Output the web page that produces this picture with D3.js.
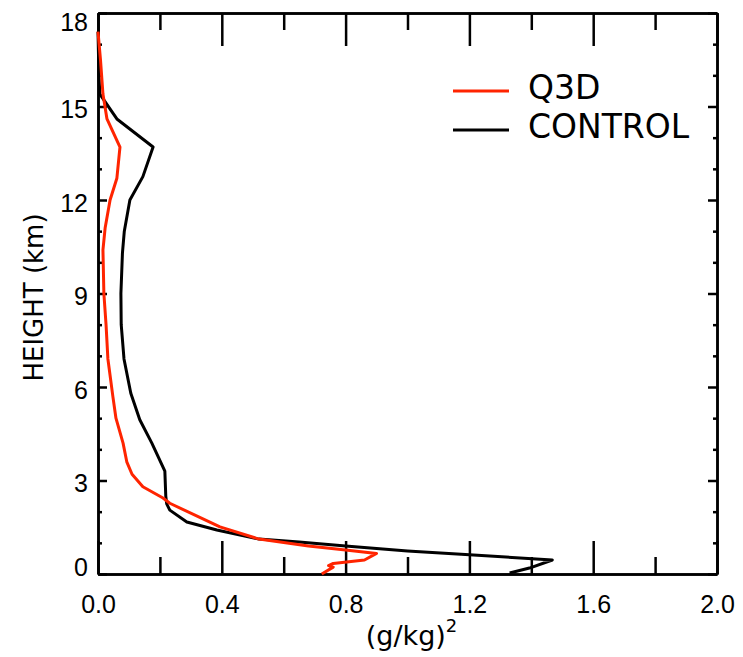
<!DOCTYPE html>
<html lang="en">
<head>
  <meta charset="UTF-8" />
  <title>Height profile: Q3D vs CONTROL</title>
  <script src="https://d3js.org/d3.v7.min.js"></script>
  <style>
    body { margin: 0; background: #fff; }
    svg { display: block; font-family: 'DejaVu Sans', sans-serif; }
    .axis path, .axis line { stroke: #000; stroke-width: 2.5; }
    .axis text { font-size: 25px; fill: #000; }
  </style>
</head>
<body>
  <svg id="chart"></svg>
  <script>
    // Values: x in (g/kg)^2, height in km
    const q3dHeight = [17.4, 16.5, 15.4, 14.6, 13.7, 12.7, 12.0, 11.1, 10.4, 9.0, 8.0, 6.9, 5.7, 5.0, 4.2, 3.6, 3.2, 2.8, 2.44, 2.27, 1.51, 1.12, 0.9, 0.77, 0.66, 0.45, 0.34, 0.27, 0.22, 0.0];
    const q3dValue  = [0.0, 0.008, 0.016, 0.029, 0.071, 0.061, 0.039, 0.023, 0.016, 0.019, 0.026, 0.032, 0.048, 0.058, 0.081, 0.093, 0.11, 0.145, 0.21, 0.232, 0.394, 0.52, 0.68, 0.80, 0.90, 0.861, 0.76, 0.745, 0.76, 0.723];

    const controlHeight = [17.4, 16.0, 15.4, 14.6, 13.7, 12.75, 12.0, 11.0, 10.3, 9.0, 8.0, 6.9, 5.8, 4.95, 4.2, 3.3, 2.5, 2.25, 2.05, 1.67, 1.41, 1.12, 1.03, 0.9, 0.74, 0.62, 0.45, 0.19, 0.03];
    const controlValue  = [0.0, 0.003, 0.006, 0.061, 0.178, 0.145, 0.103, 0.085, 0.079, 0.074, 0.075, 0.084, 0.106, 0.135, 0.174, 0.216, 0.219, 0.222, 0.232, 0.287, 0.384, 0.52, 0.65, 0.80, 1.0, 1.2, 1.468, 1.394, 1.33];

    const seriesNames = ["Q3D", "CONTROL"];
    const seriesColors = ["#ff2400", "#000000"];

    const xMajor = [0, 0.4, 0.8, 1.2, 1.6, 2.0];
    const xMinor = [0.2, 0.6, 1.0, 1.4, 1.8];
    const yMajor = [0, 3, 6, 9, 12, 15, 18];
    const yMinor = [1, 2, 4, 5, 7, 8, 10, 11, 13, 14, 16, 17];

    const W = 743, H = 657;
    const plot = { left: 98, right: 717, top: 13, bottom: 574 };

    const svg = d3.select('#chart').attr('width', W).attr('height', H);

    const x = d3.scaleLinear().domain([0, 2]).range([plot.left, plot.right]);
    const y = d3.scaleLinear().domain([0, 18]).range([plot.bottom, plot.top]);

    // bottom axis with labels, ticks pointing inward
    svg.append('g').attr('class', 'axis')
      .attr('transform', `translate(0,${plot.bottom})`)
      .call(d3.axisBottom(x).tickValues(xMajor).tickSize(-33).tickSizeOuter(0)
        .tickPadding(21).tickFormat(d3.format('.1f')));
    svg.append('g').attr('class', 'axis')
      .attr('transform', `translate(0,${plot.bottom})`)
      .call(d3.axisBottom(x).tickValues(xMinor).tickSize(-17).tickSizeOuter(0).tickFormat(''));

    // top axis, no labels
    svg.append('g').attr('class', 'axis')
      .attr('transform', `translate(0,${plot.top})`)
      .call(d3.axisTop(x).tickValues(xMajor).tickSize(-33).tickSizeOuter(0).tickFormat(''));
    svg.append('g').attr('class', 'axis')
      .attr('transform', `translate(0,${plot.top})`)
      .call(d3.axisTop(x).tickValues(xMinor).tickSize(-17).tickSizeOuter(0).tickFormat(''));

    // left axis with labels
    const leftAx = svg.append('g').attr('class', 'axis')
      .attr('transform', `translate(${plot.left},0)`)
      .call(d3.axisLeft(y).tickValues(yMajor).tickSize(-9).tickSizeOuter(0).tickPadding(10));
    leftAx.selectAll('text')
      .attr('dy', (d, i) => i === 0 ? '0.05em' : (i === yMajor.length - 1 ? '0.68em' : '0.45em'));
    svg.append('g').attr('class', 'axis')
      .attr('transform', `translate(${plot.left},0)`)
      .call(d3.axisLeft(y).tickValues(yMinor).tickSize(-4).tickSizeOuter(0).tickFormat(''));

    // right axis
    svg.append('g').attr('class', 'axis')
      .attr('transform', `translate(${plot.right},0)`)
      .call(d3.axisRight(y).tickValues(yMajor).tickSize(-9).tickSizeOuter(0).tickFormat(''));
    svg.append('g').attr('class', 'axis')
      .attr('transform', `translate(${plot.right},0)`)
      .call(d3.axisRight(y).tickValues(yMinor).tickSize(-4).tickSizeOuter(0).tickFormat(''));

    // profiles
    const line = d3.line().x(d => x(d[0])).y(d => y(d[1]));
    const profiles = [
      d3.zip(q3dValue, q3dHeight),
      d3.zip(controlValue, controlHeight)
    ];
    // draw CONTROL first so Q3D sits on top where they cross
    [1, 0].forEach(i => {
      svg.append('path')
        .datum(profiles[i])
        .attr('d', line)
        .attr('fill', 'none')
        .attr('stroke', seriesColors[i])
        .attr('stroke-width', 3)
        .attr('stroke-linejoin', 'round');
    });

    // legend
    const legend = svg.append('g');
    seriesNames.forEach((name, i) => {
      const ly = 91 + i * 39;
      legend.append('line')
        .attr('x1', 453).attr('x2', 509).attr('y1', ly).attr('y2', ly)
        .attr('stroke', seriesColors[i]).attr('stroke-width', 3);
      legend.append('text')
        .attr('x', 528).attr('y', ly + 8)
        .attr('font-size', 33)
        .text(name);
    });

    // axis titles
    const xt = svg.append('text')
      .attr('x', (plot.left + plot.right) / 2 + 4)
      .attr('y', 645)
      .attr('text-anchor', 'middle')
      .attr('font-size', 27);
    xt.append('tspan').text('(g/kg)');
    xt.append('tspan').attr('font-size', 18).attr('dy', -13).text('2');

    svg.append('text')
      .attr('transform', `translate(43,${(plot.top + plot.bottom) / 2 + 4}) rotate(-90)`)
      .attr('text-anchor', 'middle')
      .attr('font-size', 26)
      .text('HEIGHT (km)');
  </script>
</body>
</html>
